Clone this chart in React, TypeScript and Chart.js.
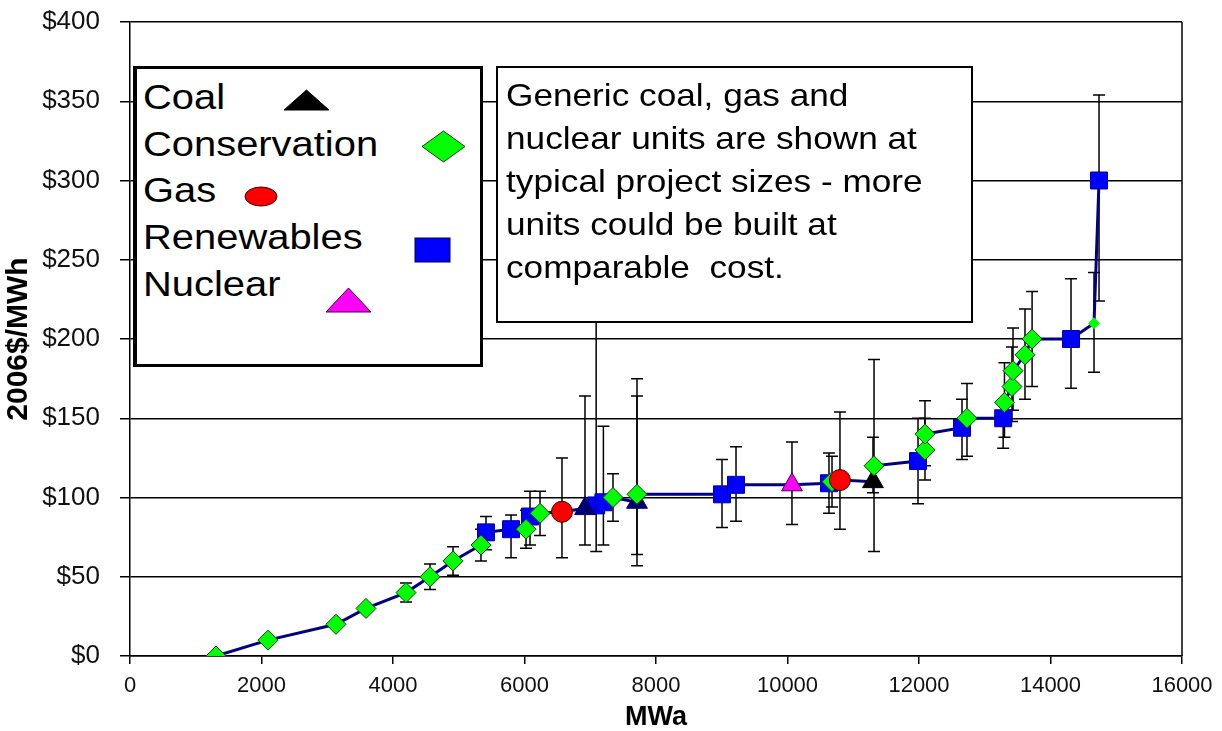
import React, { useEffect, useRef } from "react";
import { Chart, registerables } from "chart.js";
Chart.register(...registerables);

// ---- axes ----
const X_TICKS = [0, 2000, 4000, 6000, 8000, 10000, 12000, 14000, 16000];
const Y_TICKS = [0, 50, 100, 150, 200, 250, 300, 350, 400];
const X_TITLE = "MWa";
const Y_TITLE = "2006$/MWh";

// ---- Conservation ----
const consX = [1308, 2099, 3133, 3589, 4198, 4563, 4913, 5338, 6023, 6236, 7346, 7711, 10677, 11316, 12091, 12091, 12730, 13300, 13414, 13430, 13612, 13720, 14662];
const consY = [0, 10, 20, 30, 40, 50, 60, 70, 80, 90, 100, 102, 110, 120, 130, 140, 150, 160, 170, 180, 190, 200, 210];
const consLo = [null, null, null, null, 34, 42, 51, 60, 68, 76, 85, 57, 94, 66, 111, 120, 126, 138, 148, 155, 162, 170, 179];
const consHi = [null, null, null, null, 46, 58, 69, 80, 92, 104, 115, 175, 126, 187, 150, 161, 172, 185, 195, 207, 219, 230, 242];

// ---- Renewables ----
const renX = [5414, 5795, 6084, 7090, 7200, 9004, 9217, 10631, 11985, 12654, 13280, 14312, 14738];
const renY = [78, 80, 88, 95, 97, 102, 108, 109, 123, 144, 150, 200, 300];
const renLo = [67, 62, 70, 66, 70, 81, 85, 90, 96, 124, 131, 169, 224];
const renHi = [88, 89, 104, 240, 145, 124, 132, 128, 150, 162, 160, 238, 354];

// ---- Gas ----
const gasX = [6570, 10798];
const gasY = [91, 111];
const gasLo = [62, 80];
const gasHi = [125, 154];

// ---- Coal ----
const coalX = [6920, 7711, 11300];
const coalY = [93, 97, 110];
const coalLo = [70, 64, 103];
const coalHi = [164, 164, 138];

// ---- Nuclear ----
const nucX = [10068];
const nucY = [108];
const nucLo = [83];
const nucHi = [135];

const LEGEND_ITEMS = ["Coal", "Conservation", "Gas", "Renewables", "Nuclear"];
const NOTE_LINES = [
  "Generic coal, gas and",
  "nuclear units are shown at",
  "typical project sizes - more",
  "units could be built at",
  "comparable  cost.",
];

const pts = (xs: number[], ys: number[]) => xs.map((x, i) => ({ x, y: ys[i] }));

const ERROR_SETS = [
  { x: renX, lo: renLo, hi: renHi },
  { x: nucX, lo: nucLo, hi: nucHi },
  { x: coalX, lo: coalLo, hi: coalHi },
  { x: consX, lo: consLo, hi: consHi },
  { x: gasX, lo: gasLo, hi: gasHi },
];

const curve = [
  ...pts(consX, consY),
  ...pts(renX, renY),
  ...pts(gasX, gasY),
  ...pts(coalX, coalY),
  ...pts(nucX, nucY),
].sort((a, b) => (a.x - b.x) || (a.y - b.y));

const errorBarPlugin = {
  id: "errorBars",
  beforeDatasetsDraw(chart: any) {
    const { ctx, scales, chartArea } = chart;
    const xs = scales.x, ys = scales.y;
    ctx.save();
    ctx.strokeStyle = "#000";
    ctx.lineWidth = 1.5;
    ctx.beginPath();
    ctx.moveTo(chartArea.right, chartArea.top);
    ctx.lineTo(chartArea.right, chartArea.bottom);
    ctx.stroke();
    for (const s of ERROR_SETS) {
      s.x.forEach((xv: number, i: number) => {
        const lo = s.lo[i], hi = s.hi[i];
        if (lo == null || hi == null) return;
        const px = xs.getPixelForValue(xv);
        const pl = ys.getPixelForValue(lo);
        const ph = ys.getPixelForValue(hi);
        ctx.beginPath();
        ctx.moveTo(px, pl); ctx.lineTo(px, ph);
        ctx.moveTo(px - 6, pl); ctx.lineTo(px + 6, pl);
        ctx.moveTo(px - 6, ph); ctx.lineTo(px + 6, ph);
        ctx.stroke();
      });
    }
    ctx.restore();
  },
};

const FONT = "'Liberation Sans', Arial, sans-serif";

export default function App() {
  const ref = useRef<HTMLCanvasElement | null>(null);
  useEffect(() => {
    if (!ref.current) return;
    const consR = consX.map((_, i) => (i === consX.length - 1 ? 6 : 10));
    const consBW = consX.map((_, i) => (i === consX.length - 1 ? 0 : 1));
    const chart = new Chart(ref.current, {
      type: "scatter",
      data: {
        datasets: [
          { label: "Gas", data: pts(gasX, gasY), pointStyle: "circle", pointRadius: 10.5, backgroundColor: "#FF0000", borderColor: "#400000", borderWidth: 1 } as any,
          { label: "Conservation", data: pts(consX, consY), pointStyle: "rectRot", pointRadius: consR, backgroundColor: "#00FF00", borderColor: "#1a3a1a", borderWidth: consBW } as any,
          { label: "Coal", data: pts(coalX, coalY), pointStyle: "triangle", pointRadius: 12, backgroundColor: ["#000070", "#000070", "#000000"], borderColor: ["#000070", "#000070", "#000000"], borderWidth: 1 } as any,
          { label: "Nuclear", data: pts(nucX, nucY), pointStyle: "triangle", pointRadius: 12, backgroundColor: "#FF00FF", borderColor: "#400040", borderWidth: 1 } as any,
          { label: "Renewables", data: pts(renX, renY), pointStyle: "rect", pointRadius: 12, backgroundColor: "#0000FF", borderColor: "#0000A0", borderWidth: 1 } as any,
          { type: "line", label: "curve", data: curve, borderColor: "#000080", borderWidth: 3, pointRadius: 0, tension: 0, fill: false } as any,
        ],
      },
      options: {
        animation: false,
        responsive: false,
        devicePixelRatio: 1,
        events: [],
        layout: { padding: { top: 22, right: 40, left: 0, bottom: 0 } },
        plugins: { legend: { display: false }, tooltip: { enabled: false } },
        scales: {
          x: {
            type: "linear",
            min: 0,
            max: 16000,
            afterBuildTicks: (s: any) => { s.ticks = X_TICKS.map((v) => ({ value: v })); },
            afterFit: (s: any) => { s.height = 75; s.paddingLeft = 0; s.paddingRight = 0; },
            ticks: { color: "#111", font: { family: FONT, size: 22 }, padding: 9, callback: (v: any) => String(v), maxRotation: 0, autoSkip: false },
            grid: { display: true, drawOnChartArea: false, drawTicks: true, tickLength: 8, color: "#000", lineWidth: 1.5 },
            border: { display: true, color: "#000", width: 1.5 },
            title: { display: true, text: X_TITLE, color: "#000", font: { family: FONT, size: 27, weight: "bold", lineHeight: 1 }, padding: { top: 0, bottom: 0 } },
          },
          y: {
            type: "linear",
            min: 0,
            max: 400,
            afterBuildTicks: (s: any) => { s.ticks = Y_TICKS.map((v) => ({ value: v })); },
            afterFit: (s: any) => { s.width = 130; s.paddingTop = 0; s.paddingBottom = 0; },
            ticks: { color: "#111", font: { family: FONT, size: 26 }, padding: 20, callback: (v: any) => "$" + v, autoSkip: false },
            grid: { display: true, drawTicks: true, tickLength: 10, color: "#000", lineWidth: 1.5 },
            border: { display: true, color: "#000", width: 1.5 },
            title: { display: true, text: Y_TITLE, color: "#000", font: { family: FONT, size: 30, weight: "bold", lineHeight: 1 }, padding: { top: 4, bottom: 0 } },
          },
        },
      } as any,
      plugins: [errorBarPlugin],
    });
    return () => chart.destroy();
  }, []);

  const legendTops = [74, 121, 167, 214, 261];
  return (
    <div style={{ position: "absolute", left: 0, top: 0, width: 1222, height: 731, background: "#fff", fontFamily: FONT, overflow: "hidden" }}>
      <canvas ref={ref} width={1222} height={731} style={{ position: "absolute", left: 0, top: 0, width: 1222, height: 731 }} />
      <div style={{ position: "absolute", left: 133, top: 66, width: 350, height: 301, boxSizing: "border-box", border: "3px solid #000", borderLeftWidth: 4, background: "#fff" }} />
      {LEGEND_ITEMS.map((t, i) => (
        <div key={t} style={{ position: "absolute", left: 143, top: legendTops[i], fontSize: 35, lineHeight: "46px", whiteSpace: "nowrap", color: "#000", transform: "scaleX(1.14)", transformOrigin: "left center" }}>{t}</div>
      ))}
      <svg style={{ position: "absolute", left: 0, top: 0 }} width={1222} height={731}>
        <polygon points="284,110 306.5,90 329,110" fill="#000" stroke="#000" strokeWidth={1} />
        <polygon points="422,146.5 443.5,131 465,146.5 443.5,162" fill="#00FF00" stroke="#1a3a1a" strokeWidth={1} />
        <ellipse cx={261} cy={196.5} rx={16} ry={9.5} fill="#FF0000" stroke="#400000" strokeWidth={1} />
        <rect x={415} y={238} width={35} height={24} fill="#0000FF" stroke="#000040" strokeWidth={1} />
        <polygon points="326,312 348.5,288 371,312" fill="#FF00FF" stroke="#400040" strokeWidth={1} />
      </svg>
      <div style={{ position: "absolute", left: 496, top: 66, width: 477, height: 257, boxSizing: "border-box", border: "2px solid #000", background: "#fff", paddingTop: 6, paddingLeft: 8 }}>
        {NOTE_LINES.map((l, i) => (
          <div key={i} style={{ fontSize: 32, lineHeight: "43px", whiteSpace: "pre", color: "#000", transform: "scaleX(1.1)", transformOrigin: "left center" }}>{l}</div>
        ))}
      </div>
    </div>
  );
}
